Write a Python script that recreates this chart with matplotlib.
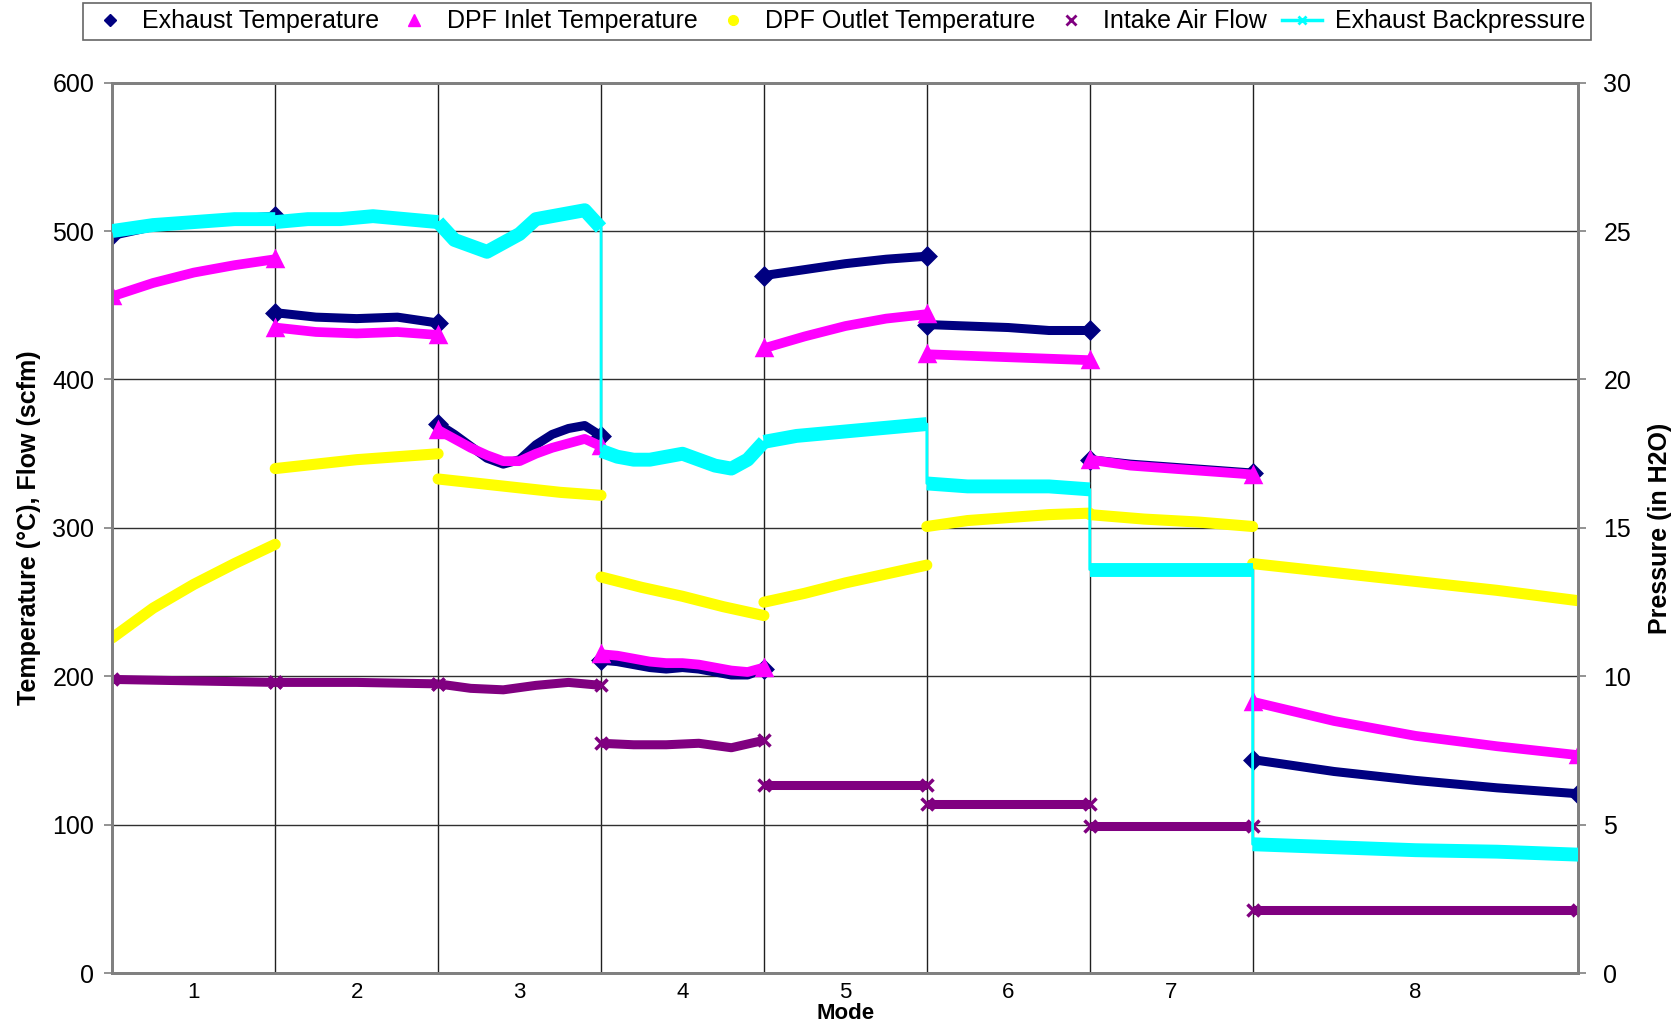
import numpy as np
import matplotlib.pyplot as plt
from matplotlib.lines import Line2D

plt.rcParams['font.family'] = ['Liberation Sans', 'DejaVu Sans']

# mode boundaries on the x axis (mode 8 runs twice as long)
mode_labels = ['1', '2', '3', '4', '5', '6', '7', '8']
mode_bounds = [0, 1, 2, 3, 4, 5, 6, 7, 9]

# readings per mode, evenly spaced through each mode
exhaust_temp = [
    [497, 503, 506, 508, 510],
    [445, 442, 441, 442, 438],
    [370, 363, 355, 347, 343, 346, 356, 363, 367, 369, 362],
    [211, 210, 208, 206, 205, 206, 205, 203, 201, 201, 205],
    [470, 474, 478, 481, 483],
    [437, 436, 435, 433, 433],
    [346, 343, 341, 339, 337],
    [144, 136, 130, 125, 121],
]
dpf_inlet = [
    [456, 465, 472, 477, 481],
    [435, 432, 431, 432, 430],
    [366, 360, 354, 349, 345, 345, 350, 354, 357, 360, 355],
    [215, 214, 212, 210, 209, 209, 208, 206, 204, 203, 206],
    [421, 429, 436, 441, 444],
    [417, 416, 415, 414, 413],
    [346, 342, 340, 338, 336],
    [183, 170, 160, 153, 147],
]
dpf_outlet = [
    [226, 246, 262, 276, 289],
    [340, 343, 346, 348, 350],
    [333, 330, 327, 324, 322],
    [267, 260, 254, 247, 241],
    [250, 256, 263, 269, 275],
    [301, 305, 307, 309, 310],
    [309, 306, 304, 301],
    [276, 270, 264, 258, 251],
]
intake_flow = [
    [198, 197, 196],
    [196, 196, 195],
    [195, 192, 191, 194, 196, 194],
    [155, 154, 154, 155, 152, 157],
    [127, 127],
    [114, 114],
    [99, 99],
    [43, 43],
]
backpressure = [
    [25.0, 25.2, 25.3, 25.4, 25.4],
    [25.3, 25.4, 25.4, 25.5, 25.4, 25.3],
    [25.3, 24.7, 24.5, 24.3, 24.6, 24.9, 25.4, 25.5, 25.6, 25.7, 25.1],
    [17.6, 17.4, 17.3, 17.3, 17.4, 17.5, 17.3, 17.1, 17.0, 17.3, 17.9],
    [17.9, 18.1, 18.2, 18.3, 18.4, 18.5],
    [16.5, 16.4, 16.4, 16.4, 16.3],
    [13.6, 13.6, 13.6, 13.6],
    [4.35, 4.25, 4.15, 4.1, 4.0],
]

series_names = ['Exhaust Temperature', 'DPF Inlet Temperature', 'DPF Outlet Temperature',
                'Intake Air Flow', 'Exhaust Backpressure']
colors = ['#000080', '#FF00FF', '#FFFF00', '#800080', '#00FFFF']


def mode_x(i, n):
    return np.linspace(mode_bounds[i], mode_bounds[i + 1], n)


fig = plt.figure(figsize=(16.79, 10.29), dpi=100)
ax = fig.add_axes([0.0669, 0.054, 0.8732, 0.8658])

styles = [
    (exhaust_temp, colors[0], 6.5, 'D', 8, 'butt'),
    (dpf_inlet, colors[1], 7.0, '^', 10, 'butt'),
    (dpf_outlet, colors[2], 8.0, None, 0, 'round'),
    (intake_flow, colors[3], 6.5, 'x', 8, 'butt'),
]
for data, c, lw, mk, ms, cap in styles:
    for i, vals in enumerate(data):
        x = mode_x(i, len(vals))
        ax.plot(x, vals, color=c, lw=lw, solid_capstyle=cap, solid_joinstyle='round',
                marker=mk, markevery=[0, len(vals) - 1], ms=ms, mew=2.5,
                mfc=c, mec=c, zorder=3)

ax.set_xlim(0, 9)
ax.set_ylim(0, 600)
ax.set_yticks(np.arange(0, 601, 100))
ax.set_xticks([(mode_bounds[i] + mode_bounds[i + 1]) / 2 for i in range(len(mode_labels))])
ax.set_xticklabels(mode_labels, fontsize=16)
ax.set_xticks(range(1, 10), minor=True)
ax.tick_params(axis='x', which='both', length=0, pad=6)
ax.tick_params(axis='y', length=6, width=1.2, color='#808080', labelsize=18, pad=7)
ax.grid(axis='y', color='#303030', lw=1)
ax.grid(axis='x', which='minor', color='#202020', lw=1)
ax.set_axisbelow(True)
for s in ax.spines.values():
    s.set_color('#808080')
    s.set_linewidth(2)

ax.set_ylabel('Temperature (°C), Flow (scfm)', fontsize=18, fontweight='bold', labelpad=8)
ax.set_xlabel('Mode', fontsize=16, fontweight='bold', labelpad=0)

# pressure on the right-hand axis, drawn as one continuous trace
ax2 = ax.twinx()
bx = np.concatenate([mode_x(i, len(v)) for i, v in enumerate(backpressure)])
by = np.concatenate(backpressure)
ax2.plot(bx, by, color=colors[4], lw=2, zorder=4)
for i, vals in enumerate(backpressure):
    ax2.plot(mode_x(i, len(vals)), vals, color=colors[4], lw=10,
             solid_capstyle='butt', solid_joinstyle='round', zorder=5)
ax2.set_ylim(0, 30)
ax2.set_yticks(np.arange(0, 31, 5))
ax2.tick_params(axis='y', length=6, width=1.2, color='#808080', labelsize=18, pad=12)
ax2.set_ylabel('Pressure (in H2O)', fontsize=18, fontweight='bold', labelpad=12)
for s in ax2.spines.values():
    s.set_color('#808080')
    s.set_linewidth(2)

handles = [
    Line2D([], [], ls='none', marker='D', ms=6, color=colors[0]),
    Line2D([], [], ls='none', marker='^', ms=8, color=colors[1]),
    Line2D([], [], ls='none', marker='o', ms=7, color=colors[2]),
    Line2D([], [], ls='none', marker='x', ms=7, mew=2, color=colors[3]),
    Line2D([], [], ls='-', lw=2.5, marker='x', ms=6, mew=2, color=colors[4]),
]
leg = fig.legend(handles, series_names, loc='upper left', ncol=5, mode='expand',
                 bbox_to_anchor=(0.0497, 0.997, 0.898, 0.0), fontsize=18,
                 frameon=True, fancybox=False, edgecolor='#404040',
                 handlelength=1.6, handletextpad=0.5, borderpad=0.25,
                 borderaxespad=0.0)
leg.get_frame().set_linewidth(1.2)

fig.savefig('out.png', dpi=100)
